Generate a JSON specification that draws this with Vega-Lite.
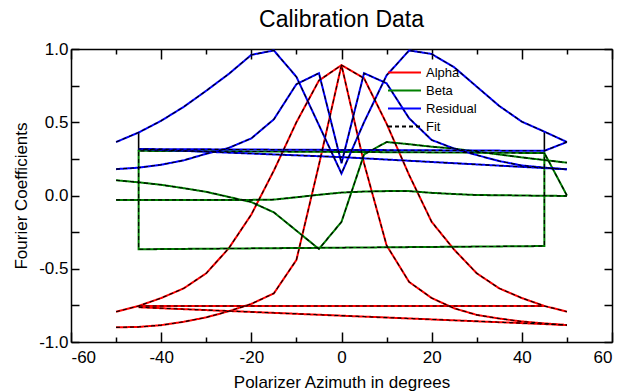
{
  "$schema": "https://vega.github.io/schema/vega-lite/v6.json",
  "width": 541,
  "height": 293,
  "autosize": {"type": "none"},
  "padding": {"left": 71, "top": 49, "right": 9, "bottom": 49},
  "background": "white",
  "title": {"text": "Calibration Data", "font": "Liberation Sans", "fontSize": 23, "fontWeight": "normal", "color": "black", "anchor": "middle", "offset": 8},
  "config": {"view": {"stroke": null}},
  "datasets": {
    "verts": [
      {"x": -45, "y": 0.43, "y2": 0.305},
      {"x": 45, "y": 0.436, "y2": 0.29}
    ],
    "main": [
      {"s": "Alpha", "g": "a1", "x": -50, "y": -0.793},
      {"s": "Alpha", "g": "a1", "x": -45, "y": -0.754},
      {"s": "Alpha", "g": "a1", "x": -40, "y": -0.70},
      {"s": "Alpha", "g": "a1", "x": -35, "y": -0.634},
      {"s": "Alpha", "g": "a1", "x": -30, "y": -0.531},
      {"s": "Alpha", "g": "a1", "x": -25, "y": -0.36},
      {"s": "Alpha", "g": "a1", "x": -20, "y": -0.13},
      {"s": "Alpha", "g": "a1", "x": -15, "y": 0.17},
      {"s": "Alpha", "g": "a1", "x": -10, "y": 0.50},
      {"s": "Alpha", "g": "a1", "x": -5, "y": 0.785},
      {"s": "Alpha", "g": "a1", "x": 0, "y": 0.89},
      {"s": "Alpha", "g": "a1", "x": 5, "y": 0.80},
      {"s": "Alpha", "g": "a1", "x": 10, "y": 0.49},
      {"s": "Alpha", "g": "a1", "x": 15, "y": 0.14},
      {"s": "Alpha", "g": "a1", "x": 20, "y": -0.18},
      {"s": "Alpha", "g": "a1", "x": 25, "y": -0.37},
      {"s": "Alpha", "g": "a1", "x": 30, "y": -0.531},
      {"s": "Alpha", "g": "a1", "x": 35, "y": -0.634},
      {"s": "Alpha", "g": "a1", "x": 40, "y": -0.70},
      {"s": "Alpha", "g": "a1", "x": 45, "y": -0.754},
      {"s": "Alpha", "g": "a1", "x": 50, "y": -0.793},
      {"s": "Alpha", "g": "a2", "x": -50, "y": -0.90},
      {"s": "Alpha", "g": "a2", "x": -45, "y": -0.897},
      {"s": "Alpha", "g": "a2", "x": -40, "y": -0.885},
      {"s": "Alpha", "g": "a2", "x": -35, "y": -0.862},
      {"s": "Alpha", "g": "a2", "x": -30, "y": -0.832},
      {"s": "Alpha", "g": "a2", "x": -25, "y": -0.79},
      {"s": "Alpha", "g": "a2", "x": -20, "y": -0.74},
      {"s": "Alpha", "g": "a2", "x": -15, "y": -0.668},
      {"s": "Alpha", "g": "a2", "x": -10, "y": -0.44},
      {"s": "Alpha", "g": "a2", "x": -5, "y": 0.21},
      {"s": "Alpha", "g": "a2", "x": 0, "y": 0.89},
      {"s": "Alpha", "g": "a2", "x": 5, "y": 0.22},
      {"s": "Alpha", "g": "a2", "x": 10, "y": -0.34},
      {"s": "Alpha", "g": "a2", "x": 15, "y": -0.59},
      {"s": "Alpha", "g": "a2", "x": 20, "y": -0.70},
      {"s": "Alpha", "g": "a2", "x": 25, "y": -0.77},
      {"s": "Alpha", "g": "a2", "x": 30, "y": -0.815},
      {"s": "Alpha", "g": "a2", "x": 35, "y": -0.84},
      {"s": "Alpha", "g": "a2", "x": 40, "y": -0.86},
      {"s": "Alpha", "g": "a2", "x": 45, "y": -0.873},
      {"s": "Alpha", "g": "a2", "x": 50, "y": -0.885},
      {"s": "Alpha", "g": "a3", "x": -45, "y": -0.754},
      {"s": "Alpha", "g": "a3", "x": 45, "y": -0.754},
      {"s": "Alpha", "g": "a4", "x": -45, "y": -0.763},
      {"s": "Alpha", "g": "a4", "x": 50, "y": -0.884},
      {"s": "Beta", "g": "b1", "x": -50, "y": 0.104},
      {"s": "Beta", "g": "b1", "x": -45, "y": 0.09},
      {"s": "Beta", "g": "b1", "x": -40, "y": 0.073},
      {"s": "Beta", "g": "b1", "x": -35, "y": 0.05},
      {"s": "Beta", "g": "b1", "x": -30, "y": 0.025},
      {"s": "Beta", "g": "b1", "x": -25, "y": -0.01},
      {"s": "Beta", "g": "b1", "x": -20, "y": -0.045},
      {"s": "Beta", "g": "b1", "x": -15, "y": -0.115},
      {"s": "Beta", "g": "b1", "x": -10, "y": -0.24},
      {"s": "Beta", "g": "b1", "x": -5, "y": -0.365},
      {"s": "Beta", "g": "b1", "x": 0, "y": -0.18},
      {"s": "Beta", "g": "b1", "x": 5, "y": 0.28},
      {"s": "Beta", "g": "b1", "x": 10, "y": 0.365},
      {"s": "Beta", "g": "b1", "x": 15, "y": 0.35},
      {"s": "Beta", "g": "b1", "x": 20, "y": 0.333},
      {"s": "Beta", "g": "b1", "x": 25, "y": 0.32},
      {"s": "Beta", "g": "b1", "x": 30, "y": 0.30},
      {"s": "Beta", "g": "b1", "x": 35, "y": 0.28},
      {"s": "Beta", "g": "b1", "x": 40, "y": 0.26},
      {"s": "Beta", "g": "b1", "x": 45, "y": 0.242},
      {"s": "Beta", "g": "b1", "x": 50, "y": 0.224},
      {"s": "Beta", "g": "b2", "x": -50, "y": -0.03},
      {"s": "Beta", "g": "b2", "x": -45, "y": -0.03},
      {"s": "Beta", "g": "b2", "x": -40, "y": -0.03},
      {"s": "Beta", "g": "b2", "x": -35, "y": -0.03},
      {"s": "Beta", "g": "b2", "x": -30, "y": -0.03},
      {"s": "Beta", "g": "b2", "x": -25, "y": -0.03},
      {"s": "Beta", "g": "b2", "x": -20, "y": -0.03},
      {"s": "Beta", "g": "b2", "x": -15, "y": -0.028},
      {"s": "Beta", "g": "b2", "x": -10, "y": -0.012},
      {"s": "Beta", "g": "b2", "x": -5, "y": 0.005},
      {"s": "Beta", "g": "b2", "x": 0, "y": 0.02},
      {"s": "Beta", "g": "b2", "x": 5, "y": 0.027},
      {"s": "Beta", "g": "b2", "x": 10, "y": 0.03},
      {"s": "Beta", "g": "b2", "x": 15, "y": 0.03},
      {"s": "Beta", "g": "b2", "x": 20, "y": 0.018},
      {"s": "Beta", "g": "b2", "x": 25, "y": 0.01},
      {"s": "Beta", "g": "b2", "x": 30, "y": 0.003},
      {"s": "Beta", "g": "b2", "x": 35, "y": 0.002},
      {"s": "Beta", "g": "b2", "x": 40, "y": 0.0},
      {"s": "Beta", "g": "b2", "x": 45, "y": -0.002},
      {"s": "Beta", "g": "b2", "x": 50, "y": -0.003},
      {"s": "Beta", "g": "b3", "x": 50, "y": 0.0},
      {"s": "Beta", "g": "b3", "x": 45, "y": 0.29},
      {"s": "Beta", "g": "b3", "x": -45, "y": 0.305},
      {"s": "Beta", "g": "b3", "x": -45, "y": -0.367},
      {"s": "Beta", "g": "b3", "x": 45, "y": -0.345},
      {"s": "Beta", "g": "b3", "x": 45, "y": 0.29},
      {"s": "Residual", "g": "r1", "x": -50, "y": 0.365},
      {"s": "Residual", "g": "r1", "x": -45, "y": 0.43},
      {"s": "Residual", "g": "r1", "x": -40, "y": 0.51},
      {"s": "Residual", "g": "r1", "x": -35, "y": 0.605},
      {"s": "Residual", "g": "r1", "x": -30, "y": 0.715},
      {"s": "Residual", "g": "r1", "x": -25, "y": 0.83},
      {"s": "Residual", "g": "r1", "x": -20, "y": 0.96},
      {"s": "Residual", "g": "r1", "x": -15, "y": 0.99},
      {"s": "Residual", "g": "r1", "x": -10, "y": 0.81},
      {"s": "Residual", "g": "r1", "x": -5, "y": 0.48},
      {"s": "Residual", "g": "r1", "x": 0, "y": 0.15},
      {"s": "Residual", "g": "r1", "x": 5, "y": 0.50},
      {"s": "Residual", "g": "r1", "x": 10, "y": 0.82},
      {"s": "Residual", "g": "r1", "x": 15, "y": 0.99},
      {"s": "Residual", "g": "r1", "x": 20, "y": 0.966},
      {"s": "Residual", "g": "r1", "x": 25, "y": 0.875},
      {"s": "Residual", "g": "r1", "x": 30, "y": 0.743},
      {"s": "Residual", "g": "r1", "x": 35, "y": 0.611},
      {"s": "Residual", "g": "r1", "x": 40, "y": 0.504},
      {"s": "Residual", "g": "r1", "x": 45, "y": 0.436},
      {"s": "Residual", "g": "r1", "x": 50, "y": 0.365},
      {"s": "Residual", "g": "r2", "x": -50, "y": 0.18},
      {"s": "Residual", "g": "r2", "x": -45, "y": 0.19},
      {"s": "Residual", "g": "r2", "x": -40, "y": 0.21},
      {"s": "Residual", "g": "r2", "x": -35, "y": 0.24},
      {"s": "Residual", "g": "r2", "x": -30, "y": 0.285},
      {"s": "Residual", "g": "r2", "x": -25, "y": 0.325},
      {"s": "Residual", "g": "r2", "x": -20, "y": 0.39},
      {"s": "Residual", "g": "r2", "x": -15, "y": 0.52},
      {"s": "Residual", "g": "r2", "x": -10, "y": 0.76},
      {"s": "Residual", "g": "r2", "x": -5, "y": 0.835},
      {"s": "Residual", "g": "r2", "x": 0, "y": 0.22},
      {"s": "Residual", "g": "r2", "x": 5, "y": 0.835},
      {"s": "Residual", "g": "r2", "x": 10, "y": 0.766},
      {"s": "Residual", "g": "r2", "x": 15, "y": 0.527},
      {"s": "Residual", "g": "r2", "x": 20, "y": 0.379},
      {"s": "Residual", "g": "r2", "x": 25, "y": 0.32},
      {"s": "Residual", "g": "r2", "x": 30, "y": 0.276},
      {"s": "Residual", "g": "r2", "x": 35, "y": 0.235},
      {"s": "Residual", "g": "r2", "x": 40, "y": 0.205},
      {"s": "Residual", "g": "r2", "x": 45, "y": 0.19},
      {"s": "Residual", "g": "r2", "x": 50, "y": 0.179},
      {"s": "Residual", "g": "r3", "x": 50, "y": 0.365},
      {"s": "Residual", "g": "r3", "x": 45, "y": 0.305},
      {"s": "Residual", "g": "r3", "x": -45, "y": 0.317},
      {"s": "Residual", "g": "r3", "x": 0, "y": 0.262},
      {"s": "Residual", "g": "r3", "x": 50, "y": 0.179}
    ]
  },
  "resolve": {"axis": {"x": "independent", "y": "independent"}},
  "layer": [
    {
      "data": {"name": "verts"},
      "mark": {"type": "rule", "color": "black", "strokeWidth": 1.6},
      "encoding": {
        "x": {"field": "x", "type": "quantitative", "scale": {"domain": [-60, 60], "nice": false, "zero": false},
          "axis": {"orient": "top", "title": null, "labels": false, "grid": false, "values": [-60, -50, -40, -30, -20, -10, 0, 10, 20, 30, 40, 50, 60],
            "tickSize": {"condition": {"test": "datum.value % 20 === 0", "value": -10}, "value": -5},
            "tickColor": "black", "tickWidth": 1.5, "domainColor": "black", "domainWidth": 1.5}},
        "y": {"field": "y", "type": "quantitative", "scale": {"domain": [-1, 1], "nice": false, "zero": false},
          "axis": {"orient": "right", "title": null, "labels": false, "grid": false, "values": [-1, -0.75, -0.5, -0.25, 0, 0.25, 0.5, 0.75, 1],
            "tickSize": -8, "tickColor": "black", "tickWidth": 1.5, "domainColor": "black", "domainWidth": 1.5}},
        "y2": {"field": "y2"}
      }
    },
    {
      "data": {"name": "main"},
      "mark": {"type": "line", "strokeWidth": 2},
      "encoding": {
        "x": {"field": "x", "type": "quantitative", "scale": {"domain": [-60, 60], "nice": false, "zero": false},
          "axis": {"orient": "bottom", "title": "Polarizer Azimuth in degrees", "grid": false,
            "values": [-60, -50, -40, -30, -20, -10, 0, 10, 20, 30, 40, 50, 60],
            "labelExpr": "datum.value % 20 === 0 ? '' + datum.value : ''",
            "tickSize": {"condition": {"test": "datum.value % 20 === 0", "value": -10}, "value": -5},
            "labelPadding": 17, "labelFont": "Liberation Sans", "labelFontSize": 17, "labelColor": "black",
            "titleFont": "Liberation Sans", "titleFontSize": 17, "titleFontWeight": "normal", "titleColor": "black", "titlePadding": 9,
            "tickColor": "black", "tickWidth": 1.5, "domainColor": "black", "domainWidth": 1.5}},
        "y": {"field": "y", "type": "quantitative", "scale": {"domain": [-1, 1], "nice": false, "zero": false},
          "axis": {"orient": "left", "title": "Fourier Coefficients", "grid": false,
            "values": [-1, -0.75, -0.5, -0.25, 0, 0.25, 0.5, 0.75, 1],
            "labelExpr": "abs(datum.value * 2 - round(datum.value * 2)) < 0.001 ? (datum.value < 0 ? '-' : '') + format(abs(datum.value), '.1f') : ''",
            "tickSize": -8, "labelPadding": 11, "labelFont": "Liberation Sans", "labelFontSize": 17, "labelColor": "black",
            "titleFont": "Liberation Sans", "titleFontSize": 17, "titleFontWeight": "normal", "titleColor": "black", "titlePadding": 8,
            "tickColor": "black", "tickWidth": 1.5, "domainColor": "black", "domainWidth": 1.5}},
        "color": {"field": "s", "type": "nominal",
          "scale": {"domain": ["Alpha", "Beta", "Residual", "Fit"], "range": ["#ff0000", "#008000", "#0000ff", "#000000"]},
          "legend": {"orient": "none", "legendX": 324, "legendY": 14, "title": null, "symbolType": "M-2,0L2,0", "symbolSize": 272,
            "symbolStrokeWidth": 2, "labelFont": "Liberation Sans", "labelFontSize": 13, "labelColor": "black",
            "labelOffset": 12, "rowPadding": 1, "padding": 0}},
        "strokeDash": {"field": "s", "type": "nominal",
          "scale": {"domain": ["Alpha", "Beta", "Residual", "Fit"], "range": [[1, 0], [1, 0], [1, 0], [4, 3]]},
          "legend": {"orient": "none", "legendX": 324, "legendY": 14, "title": null, "symbolType": "M-2,0L2,0", "symbolSize": 272,
            "symbolStrokeWidth": 2, "labelFont": "Liberation Sans", "labelFontSize": 13, "labelColor": "black",
            "labelOffset": 12, "rowPadding": 1, "padding": 0}},
        "detail": {"field": "g"},
        "order": {"value": null}
      }
    },
    {
      "data": {"name": "main"},
      "mark": {"type": "line", "strokeWidth": 1.1},
      "encoding": {
        "x": {"field": "x", "type": "quantitative", "scale": {"domain": [-60, 60], "nice": false, "zero": false}, "axis": null},
        "y": {"field": "y", "type": "quantitative", "scale": {"domain": [-1, 1], "nice": false, "zero": false}, "axis": null},
        "color": {"datum": "Fit", "type": "nominal"},
        "strokeDash": {"datum": "Fit", "type": "nominal"},
        "detail": {"field": "g"},
        "order": {"value": null}
      }
    }
  ]
}
